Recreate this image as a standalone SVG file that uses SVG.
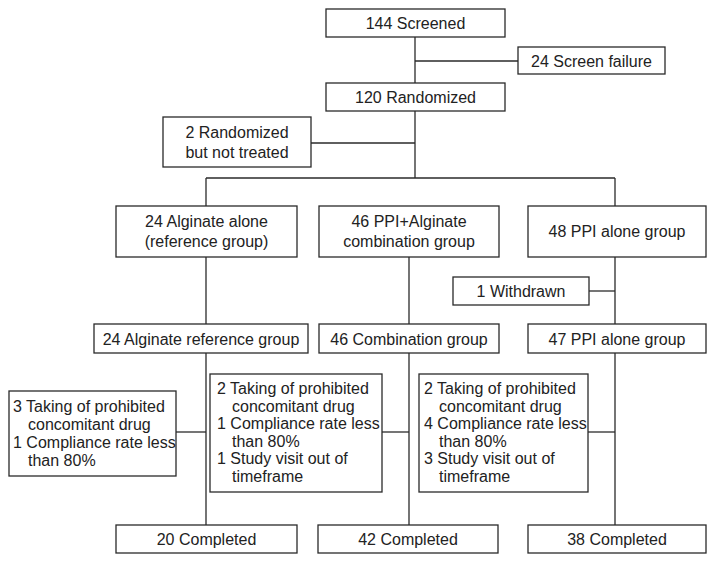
<svg xmlns="http://www.w3.org/2000/svg" width="715" height="562" viewBox="0 0 715 562">
<style>
rect{fill:#fff;stroke:#2a2a2a;stroke-width:1.3}
line{stroke:#2a2a2a;stroke-width:1.3}
text{font-family:"Liberation Sans",Arial,sans-serif;font-size:16px;fill:#222}
.c{text-anchor:middle}
</style>
<rect x="0" y="0" width="715" height="562" style="stroke:none"/>
<g id="connectors">
<line x1="415" y1="37" x2="415" y2="83"/>
<line x1="415" y1="61" x2="518" y2="61"/>
<line x1="415" y1="111" x2="415" y2="178"/>
<line x1="311" y1="143" x2="415" y2="143"/>
<line x1="206" y1="178" x2="615" y2="178"/>
<line x1="206" y1="178" x2="206" y2="206"/>
<line x1="615" y1="178" x2="615" y2="206"/>
<line x1="206" y1="257" x2="206" y2="324"/>
<line x1="409" y1="257" x2="409" y2="324"/>
<line x1="615" y1="257" x2="615" y2="324"/>
<line x1="589" y1="291" x2="615" y2="291"/>
<line x1="206" y1="353" x2="206" y2="525"/>
<line x1="409" y1="353" x2="409" y2="525"/>
<line x1="615" y1="353" x2="615" y2="525"/>
<line x1="176" y1="432" x2="206" y2="432"/>
<line x1="382" y1="432" x2="409" y2="432"/>
<line x1="588" y1="432" x2="615" y2="432"/>
</g>
<g id="screened"><rect x="326" y="9" width="179" height="28"/><text class="c" x="415.5" y="29">144 Screened</text></g>
<g id="screenfail"><rect x="518" y="47" width="147" height="27"/><text class="c" x="591.5" y="66.5">24 Screen failure</text></g>
<g id="randomized"><rect x="326" y="83" width="179" height="28"/><text class="c" x="415.5" y="103">120 Randomized</text></g>
<g id="nottreated"><rect x="163" y="117" width="148" height="50"/><text class="c" x="237" y="137.5">2 Randomized</text><text class="c" x="237" y="157.5">but not treated</text></g>
<g id="alginate"><rect x="116" y="206" width="181" height="51"/><text class="c" x="206.5" y="227">24 Alginate alone</text><text class="c" x="206.5" y="247">(reference group)</text></g>
<g id="combo"><rect x="319" y="206" width="180" height="51"/><text class="c" x="409" y="227">46 PPI+Alginate</text><text class="c" x="409" y="247">combination group</text></g>
<g id="ppi"><rect x="528" y="206" width="178" height="51"/><text class="c" x="617" y="237">48 PPI alone group</text></g>
<g id="withdrawn"><rect x="453" y="277" width="136" height="28"/><text class="c" x="521" y="296.5">1 Withdrawn</text></g>
<g id="alginate2"><rect x="94" y="324" width="214" height="29"/><text class="c" x="201" y="344.5">24 Alginate reference group</text></g>
<g id="combo2"><rect x="319" y="324" width="180" height="29"/><text class="c" x="409" y="344.5">46 Combination group</text></g>
<g id="ppi2"><rect x="528" y="324" width="178" height="29"/><text class="c" x="617" y="344.5">47 PPI alone group</text></g>
<g id="excl-left"><rect x="9" y="391" width="167" height="85"/>
<text x="13" y="412">3 Taking of prohibited</text><text x="28" y="430">concomitant drug</text><text x="13" y="448">1 Compliance rate less</text><text x="28" y="466">than 80%</text></g>
<g id="excl-mid"><rect x="210" y="374" width="172" height="118"/>
<text x="217" y="394">2 Taking of prohibited</text><text x="232" y="411.6">concomitant drug</text><text x="217" y="429.2">1 Compliance rate less</text><text x="232" y="446.8">than 80%</text><text x="217" y="464.4">1 Study visit out of</text><text x="232" y="482">timeframe</text></g>
<g id="excl-right"><rect x="419" y="374" width="169" height="118"/>
<text x="424" y="394">2 Taking of prohibited</text><text x="439" y="411.6">concomitant drug</text><text x="424" y="429.2">4 Compliance rate less</text><text x="439" y="446.8">than 80%</text><text x="424" y="464.4">3 Study visit out of</text><text x="439" y="482">timeframe</text></g>
<g id="completed1"><rect x="116" y="525" width="181" height="28"/><text class="c" x="206.5" y="544.5">20 Completed</text></g>
<g id="completed2"><rect x="318" y="525" width="180" height="28"/><text class="c" x="408" y="544.5">42 Completed</text></g>
<g id="completed3"><rect x="528" y="525" width="178" height="28"/><text class="c" x="617" y="544.5">38 Completed</text></g>
</svg>
